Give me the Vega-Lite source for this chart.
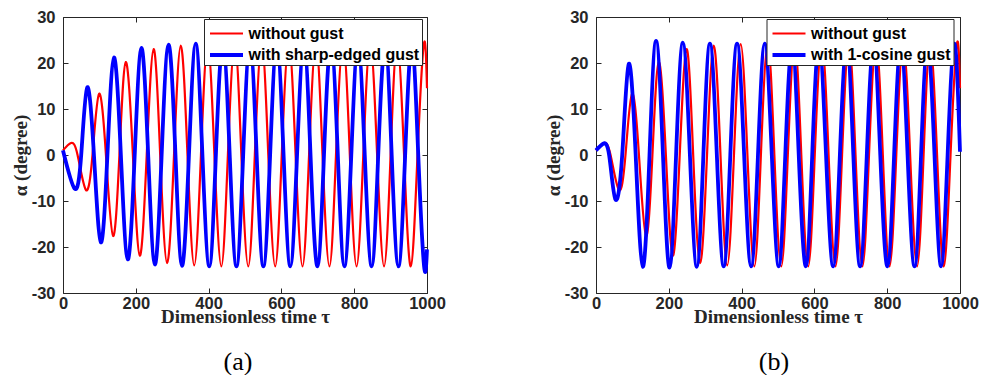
{
  "$schema": "https://vega.github.io/schema/vega-lite/v6.json",
  "padding": {"left": 10, "top": 8, "right": 0, "bottom": 0},
  "bounds": "flush",
  "spacing": 169,
  "background": "white",
  "datasets": {
    "curves": [
      {"s": "without gust", "t": 0, "a": 1.0},
      {"s": "without gust", "t": 22, "a": 2.6},
      {"s": "without gust", "t": 40, "a": 0},
      {"s": "without gust", "t": 63, "a": -7.6},
      {"s": "without gust", "t": 81, "a": 0},
      {"s": "without gust", "t": 99, "a": 13.3},
      {"s": "without gust", "t": 118, "a": 0},
      {"s": "without gust", "t": 137.5, "a": -17.6},
      {"s": "without gust", "t": 155, "a": 0},
      {"s": "without gust", "t": 172.5, "a": 20.2},
      {"s": "without gust", "t": 192, "a": 0},
      {"s": "without gust", "t": 211, "a": -21.9},
      {"s": "without gust", "t": 230, "a": 0},
      {"s": "without gust", "t": 249, "a": 23.0},
      {"s": "without gust", "t": 267, "a": 0},
      {"s": "without gust", "t": 286, "a": -23.5},
      {"s": "without gust", "t": 305, "a": 0},
      {"s": "without gust", "t": 323.5, "a": 23.8},
      {"s": "without gust", "t": 342, "a": 0},
      {"s": "without gust", "t": 360.5, "a": -24.0},
      {"s": "without gust", "t": 379, "a": 0},
      {"s": "without gust", "t": 397.5, "a": 24.1},
      {"s": "without gust", "t": 416, "a": 0},
      {"s": "without gust", "t": 435, "a": -24.2},
      {"s": "without gust", "t": 453, "a": 0},
      {"s": "without gust", "t": 472, "a": 24.2},
      {"s": "without gust", "t": 490, "a": 0},
      {"s": "without gust", "t": 509, "a": -24.2},
      {"s": "without gust", "t": 527, "a": 0},
      {"s": "without gust", "t": 546, "a": 24.2},
      {"s": "without gust", "t": 564, "a": 0},
      {"s": "without gust", "t": 583, "a": -24.2},
      {"s": "without gust", "t": 601, "a": 0},
      {"s": "without gust", "t": 620.5, "a": 24.2},
      {"s": "without gust", "t": 639, "a": 0},
      {"s": "without gust", "t": 658, "a": -24.2},
      {"s": "without gust", "t": 676, "a": 0},
      {"s": "without gust", "t": 695, "a": 24.2},
      {"s": "without gust", "t": 713, "a": 0},
      {"s": "without gust", "t": 732, "a": -24.2},
      {"s": "without gust", "t": 750, "a": 0},
      {"s": "without gust", "t": 769.5, "a": 24.2},
      {"s": "without gust", "t": 788, "a": 0},
      {"s": "without gust", "t": 806.5, "a": -24.2},
      {"s": "without gust", "t": 825, "a": 0},
      {"s": "without gust", "t": 844, "a": 24.2},
      {"s": "without gust", "t": 863, "a": 0},
      {"s": "without gust", "t": 882, "a": -24.2},
      {"s": "without gust", "t": 900, "a": 0},
      {"s": "without gust", "t": 918, "a": 24.2},
      {"s": "without gust", "t": 937, "a": 0},
      {"s": "without gust", "t": 955.5, "a": -24.2},
      {"s": "without gust", "t": 974, "a": 0},
      {"s": "without gust", "t": 991.5, "a": 24.2},
      {"s": "without gust", "t": 1000, "a": 14.5},

      {"s": "with sharp-edged gust", "t": 0, "a": 1.0},
      {"s": "with sharp-edged gust", "t": 32, "a": -7.3},
      {"s": "with sharp-edged gust", "t": 50, "a": 0},
      {"s": "with sharp-edged gust", "t": 66.5, "a": 14.7},
      {"s": "with sharp-edged gust", "t": 85, "a": 0},
      {"s": "with sharp-edged gust", "t": 104, "a": -19.0},
      {"s": "with sharp-edged gust", "t": 122, "a": 0},
      {"s": "with sharp-edged gust", "t": 140, "a": 21.2},
      {"s": "with sharp-edged gust", "t": 159, "a": 0},
      {"s": "with sharp-edged gust", "t": 178, "a": -22.7},
      {"s": "with sharp-edged gust", "t": 197, "a": 0},
      {"s": "with sharp-edged gust", "t": 215.5, "a": 23.3},
      {"s": "with sharp-edged gust", "t": 234, "a": 0},
      {"s": "with sharp-edged gust", "t": 252.5, "a": -23.8},
      {"s": "with sharp-edged gust", "t": 271, "a": 0},
      {"s": "with sharp-edged gust", "t": 290, "a": 24.0},
      {"s": "with sharp-edged gust", "t": 309, "a": 0},
      {"s": "with sharp-edged gust", "t": 327, "a": -24.1},
      {"s": "with sharp-edged gust", "t": 346, "a": 0},
      {"s": "with sharp-edged gust", "t": 364.5, "a": 24.2},
      {"s": "with sharp-edged gust", "t": 383, "a": 0},
      {"s": "with sharp-edged gust", "t": 402, "a": -24.2},
      {"s": "with sharp-edged gust", "t": 420, "a": 0},
      {"s": "with sharp-edged gust", "t": 439, "a": 24.2},
      {"s": "with sharp-edged gust", "t": 458, "a": 0},
      {"s": "with sharp-edged gust", "t": 476.5, "a": -24.2},
      {"s": "with sharp-edged gust", "t": 495, "a": 0},
      {"s": "with sharp-edged gust", "t": 513.5, "a": 24.2},
      {"s": "with sharp-edged gust", "t": 532, "a": 0},
      {"s": "with sharp-edged gust", "t": 550.5, "a": -24.2},
      {"s": "with sharp-edged gust", "t": 569, "a": 0},
      {"s": "with sharp-edged gust", "t": 587.5, "a": 24.2},
      {"s": "with sharp-edged gust", "t": 606, "a": 0},
      {"s": "with sharp-edged gust", "t": 624.5, "a": -24.2},
      {"s": "with sharp-edged gust", "t": 643, "a": 0},
      {"s": "with sharp-edged gust", "t": 662, "a": 24.2},
      {"s": "with sharp-edged gust", "t": 680, "a": 0},
      {"s": "with sharp-edged gust", "t": 699, "a": -24.2},
      {"s": "with sharp-edged gust", "t": 717, "a": 0},
      {"s": "with sharp-edged gust", "t": 736, "a": 24.2},
      {"s": "with sharp-edged gust", "t": 755, "a": 0},
      {"s": "with sharp-edged gust", "t": 773, "a": -24.2},
      {"s": "with sharp-edged gust", "t": 792, "a": 0},
      {"s": "with sharp-edged gust", "t": 810.5, "a": 24.2},
      {"s": "with sharp-edged gust", "t": 829, "a": 0},
      {"s": "with sharp-edged gust", "t": 848, "a": -24.2},
      {"s": "with sharp-edged gust", "t": 866, "a": 0},
      {"s": "with sharp-edged gust", "t": 885, "a": 24.2},
      {"s": "with sharp-edged gust", "t": 903, "a": 0},
      {"s": "with sharp-edged gust", "t": 921.5, "a": -24.2},
      {"s": "with sharp-edged gust", "t": 940, "a": 0},
      {"s": "with sharp-edged gust", "t": 958.5, "a": 24.2},
      {"s": "with sharp-edged gust", "t": 976, "a": 0},
      {"s": "with sharp-edged gust", "t": 992, "a": -24.2},
      {"s": "with sharp-edged gust", "t": 1000, "a": -20.5},

      {"s": "with 1-cosine gust", "t": 0, "a": 1.0},
      {"s": "with 1-cosine gust", "t": 19, "a": 2.4},
      {"s": "with 1-cosine gust", "t": 36, "a": 0},
      {"s": "with 1-cosine gust", "t": 53, "a": -9.6},
      {"s": "with 1-cosine gust", "t": 72, "a": 0},
      {"s": "with 1-cosine gust", "t": 90, "a": 19.8},
      {"s": "with 1-cosine gust", "t": 109, "a": 0},
      {"s": "with 1-cosine gust", "t": 128.5, "a": -24.3},
      {"s": "with 1-cosine gust", "t": 147, "a": 0},
      {"s": "with 1-cosine gust", "t": 165, "a": 24.8},
      {"s": "with 1-cosine gust", "t": 184, "a": 0},
      {"s": "with 1-cosine gust", "t": 202, "a": -24.5},
      {"s": "with 1-cosine gust", "t": 220, "a": 0},
      {"s": "with 1-cosine gust", "t": 238.6, "a": 24.4},
      {"s": "with 1-cosine gust", "t": 258, "a": 0},
      {"s": "with 1-cosine gust", "t": 277, "a": -24.3},
      {"s": "with 1-cosine gust", "t": 295, "a": 0},
      {"s": "with 1-cosine gust", "t": 313, "a": 24.2},
      {"s": "with 1-cosine gust", "t": 332, "a": 0},
      {"s": "with 1-cosine gust", "t": 350.7, "a": -24.2},
      {"s": "with 1-cosine gust", "t": 369, "a": 0},
      {"s": "with 1-cosine gust", "t": 387.5, "a": 24.2},
      {"s": "with 1-cosine gust", "t": 407, "a": 0},
      {"s": "with 1-cosine gust", "t": 426, "a": -24.2},
      {"s": "with 1-cosine gust", "t": 445, "a": 0},
      {"s": "with 1-cosine gust", "t": 463.5, "a": 24.2},
      {"s": "with 1-cosine gust", "t": 483, "a": 0},
      {"s": "with 1-cosine gust", "t": 502, "a": -24.2},
      {"s": "with 1-cosine gust", "t": 520, "a": 0},
      {"s": "with 1-cosine gust", "t": 538.8, "a": 24.2},
      {"s": "with 1-cosine gust", "t": 557, "a": 0},
      {"s": "with 1-cosine gust", "t": 576.5, "a": -24.2},
      {"s": "with 1-cosine gust", "t": 594, "a": 0},
      {"s": "with 1-cosine gust", "t": 612.5, "a": 24.2},
      {"s": "with 1-cosine gust", "t": 632, "a": 0},
      {"s": "with 1-cosine gust", "t": 651.5, "a": -24.2},
      {"s": "with 1-cosine gust", "t": 670, "a": 0},
      {"s": "with 1-cosine gust", "t": 688.7, "a": 24.2},
      {"s": "with 1-cosine gust", "t": 707, "a": 0},
      {"s": "with 1-cosine gust", "t": 725.5, "a": -24.2},
      {"s": "with 1-cosine gust", "t": 744, "a": 0},
      {"s": "with 1-cosine gust", "t": 762.5, "a": 24.2},
      {"s": "with 1-cosine gust", "t": 781, "a": 0},
      {"s": "with 1-cosine gust", "t": 800.5, "a": -24.2},
      {"s": "with 1-cosine gust", "t": 819, "a": 0},
      {"s": "with 1-cosine gust", "t": 837.5, "a": 24.2},
      {"s": "with 1-cosine gust", "t": 856, "a": 0},
      {"s": "with 1-cosine gust", "t": 875, "a": -24.2},
      {"s": "with 1-cosine gust", "t": 893, "a": 0},
      {"s": "with 1-cosine gust", "t": 911, "a": 24.2},
      {"s": "with 1-cosine gust", "t": 930, "a": 0},
      {"s": "with 1-cosine gust", "t": 948, "a": -24.2},
      {"s": "with 1-cosine gust", "t": 966, "a": 0},
      {"s": "with 1-cosine gust", "t": 984.5, "a": 24.2},
      {"s": "with 1-cosine gust", "t": 1000, "a": 0.7}
    ]
  },
  "data": {"name": "curves"},
  "hconcat": [
    {
      "width": 364,
      "height": 276,
      "transform": [{"filter": "datum.s != 'with 1-cosine gust'"}],
      "title": {"text": "(a)", "orient": "bottom", "font": "Liberation Serif", "fontSize": 26, "fontWeight": "normal", "color": "black", "offset": 22, "dx": -7},
      "layer": [
        {
          "mark": {"type": "line", "interpolate": "natural"},
          "encoding": {
            "x": {"field": "t", "type": "quantitative", "scale": {"domain": [0, 1000], "nice": false},
                  "axis": {"values": [0, 200, 400, 600, 800, 1000], "title": "Dimensionless time τ", "labelExpr": "'' + datum.value", "labelFlush": false, "labelOverlap": false, "labelPadding": 7, "titlePadding": -4}},
            "y": {"field": "a", "type": "quantitative", "scale": {"domain": [-30, 30], "nice": false},
                  "axis": {"values": [-30, -20, -10, 0, 10, 20, 30], "title": "α (degree)", "labelExpr": "'' + datum.value", "labelFlush": false, "labelOverlap": false, "labelPadding": 13, "titlePadding": 1}},
            "color": {"field": "s", "type": "nominal",
                      "scale": {"domain": ["without gust", "with sharp-edged gust"], "range": ["#ff0000", "#0000ff"]},
                      "legend": {"title": null, "orient": "none", "legendX": 141, "legendY": 2}},
            "strokeWidth": {"field": "s", "type": "nominal",
                      "scale": {"domain": ["without gust", "with sharp-edged gust"], "range": [2.2, 3.8]},
                      "legend": {"title": null, "orient": "none", "legendX": 141, "legendY": 2}}
          }
        },
        {
          "mark": {"type": "line", "opacity": 0},
          "encoding": {
            "x": {"field": "t", "type": "quantitative", "scale": {"domain": [0, 1000], "nice": false}, "axis": {"orient": "top", "labels": false, "title": null, "values": [0, 200, 400, 600, 800, 1000]}},
            "y": {"field": "a", "type": "quantitative", "scale": {"domain": [-30, 30], "nice": false}, "axis": {"orient": "right", "labels": false, "title": null, "values": [-30, -20, -10, 0, 10, 20, 30]}}
          }
        }
      ],
      "resolve": {"axis": {"x": "independent", "y": "independent"}}
    },
    {
      "width": 364,
      "height": 276,
      "transform": [{"filter": "datum.s != 'with sharp-edged gust'"}],
      "title": {"text": "(b)", "orient": "bottom", "font": "Liberation Serif", "fontSize": 26, "fontWeight": "normal", "color": "black", "offset": 22, "dx": -4},
      "layer": [
        {
          "mark": {"type": "line", "interpolate": "natural"},
          "encoding": {
            "x": {"field": "t", "type": "quantitative", "scale": {"domain": [0, 1000], "nice": false},
                  "axis": {"values": [0, 200, 400, 600, 800, 1000], "title": "Dimensionless time τ", "labelExpr": "'' + datum.value", "labelFlush": false, "labelOverlap": false, "labelPadding": 7, "titlePadding": -4}},
            "y": {"field": "a", "type": "quantitative", "scale": {"domain": [-30, 30], "nice": false},
                  "axis": {"values": [-30, -20, -10, 0, 10, 20, 30], "title": "α (degree)", "labelExpr": "'' + datum.value", "labelFlush": false, "labelOverlap": false, "labelPadding": 13, "titlePadding": 1}},
            "color": {"field": "s", "type": "nominal",
                      "scale": {"domain": ["without gust", "with 1-cosine gust"], "range": ["#ff0000", "#0000ff"]},
                      "legend": {"title": null, "orient": "none", "legendX": 170.5, "legendY": 2}},
            "strokeWidth": {"field": "s", "type": "nominal",
                      "scale": {"domain": ["without gust", "with 1-cosine gust"], "range": [2.2, 3.8]},
                      "legend": {"title": null, "orient": "none", "legendX": 170.5, "legendY": 2}}
          }
        },
        {
          "mark": {"type": "line", "opacity": 0},
          "encoding": {
            "x": {"field": "t", "type": "quantitative", "scale": {"domain": [0, 1000], "nice": false}, "axis": {"orient": "top", "labels": false, "title": null, "values": [0, 200, 400, 600, 800, 1000]}},
            "y": {"field": "a", "type": "quantitative", "scale": {"domain": [-30, 30], "nice": false}, "axis": {"orient": "right", "labels": false, "title": null, "values": [-30, -20, -10, 0, 10, 20, 30]}}
          }
        }
      ],
      "resolve": {"axis": {"x": "independent", "y": "independent"}}
    }
  ],
  "resolve": {"scale": {"color": "independent", "strokeWidth": "independent"}, "legend": {"color": "independent", "strokeWidth": "independent"}},
  "config": {
    "view": {"stroke": "#262626", "strokeWidth": 1},
    "axis": {"domain": false, "grid": false, "tickColor": "#262626", "tickSize": -5, "tickWidth": 1,
             "labelFont": "Liberation Sans", "labelFontWeight": "bold", "labelFontSize": 16.5, "labelColor": "#262626",
             "titleFont": "Liberation Serif", "titleFontWeight": "bold", "titleFontSize": 19, "titleColor": "#262626"},
    "legend": {"strokeColor": "#262626", "fillColor": "white", "padding": 2,
               "symbolType": "M-1.5,0H1.5", "symbolSize": 484, "labelFont": "Liberation Sans", "labelFontWeight": "bold",
               "labelFontSize": 16, "labelColor": "black", "labelLimit": 400, "rowPadding": 0, "labelOffset": 9, "cornerRadius": 0, "symbolOffset": 7.5},
    "line": {"strokeJoin": "round"}
  }
}
